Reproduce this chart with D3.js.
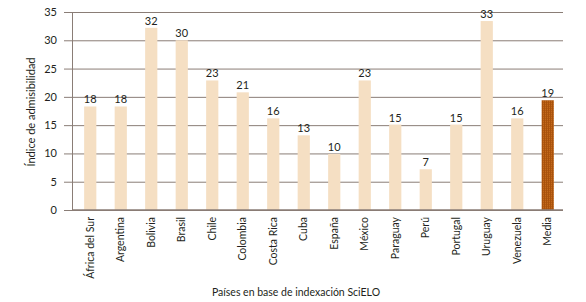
<!DOCTYPE html>
<html>
<head>
<meta charset="utf-8">
<script src="https://cdn.jsdelivr.net/npm/d3@7"></script>
<style>
  body { margin: 0; background: #fff; }
  text { font-family: Lato, "Open Sans", sans-serif; fill: #231f20; }
</style>
</head>
<body>
<div id="chart"></div>
<script>
const paises = ["África del Sur", "Argentina", "Bolivia", "Brasil", "Chile", "Colombia", "Costa Rica",
  "Cuba", "España", "México", "Paraguay", "Perú", "Portugal", "Uruguay", "Venezuela", "Media"];
const indice = [18.3, 18.3, 32.2, 30.0, 22.9, 20.8, 16.2, 13.2, 9.9, 22.9, 15.1, 7.2, 15.1, 33.4, 16.2, 19.4];
const yTicks = [0, 5, 10, 15, 20, 25, 30, 35];

const width = 586, height = 302;
const marginTop = 12, marginRight = 23, marginBottom = 92, marginLeft = 72;

const data = paises.map((p, i) => ({pais: p, value: indice[i]}));

const svg = d3.select("#chart").append("svg")
  .attr("width", width).attr("height", height)
  .attr("viewBox", [0, 0, width, height]);

const defs = svg.append("defs");
const pat = defs.append("pattern")
  .attr("id", "media")
  .attr("width", 2).attr("height", 2)
  .attr("patternUnits", "userSpaceOnUse");
pat.append("rect").attr("width", 2).attr("height", 2).attr("fill", "#c46a1c");
pat.append("rect").attr("width", 1).attr("height", 2).attr("fill", "#a9520c");
pat.append("rect").attr("width", 2).attr("height", 1).attr("fill", "#a9520c").attr("opacity", 0.6);

const x = d3.scaleBand()
  .domain(paises)
  .range([75, width - marginRight])
  .paddingInner(0.6)
  .paddingOuter(0.3);

const y = d3.scaleLinear()
  .domain([0, 35])
  .range([height - marginBottom, marginTop]);

// gridlines + ticks
svg.append("g")
  .attr("transform", `translate(${marginLeft},0)`)
  .call(d3.axisLeft(y).tickValues(yTicks).tickSize(8).tickPadding(7))
  .call(g => g.select(".domain").attr("stroke", "#8a7d76"))
  .call(g => g.selectAll(".tick line").attr("stroke", "#8a7d76"))
  .call(g => g.selectAll(".tick line").clone()
    .attr("x1", 0).attr("x2", width - marginRight - marginLeft)
    .attr("stroke", "#8a7d76"))
  .call(g => g.selectAll(".tick text").attr("font-size", 11).attr("font-family", "Lato, sans-serif"));

svg.append("g")
  .selectAll()
  .data(data)
  .join("rect")
    .attr("x", d => x(d.pais))
    .attr("y", d => y(d.value))
    .attr("width", x.bandwidth())
    .attr("height", d => y(0) - y(d.value))
    .attr("fill", d => d.pais === "Media" ? "url(#media)" : "#f5dfc3");

svg.append("g")
  .attr("font-size", 11)
  .attr("text-anchor", "middle")
  .selectAll()
  .data(data)
  .join("text")
    .attr("x", d => x(d.pais) + x.bandwidth() / 2)
    .attr("y", d => y(d.value) - 3)
    .text(d => Math.round(d.value));

// bottom axis
svg.append("line")
  .attr("x1", marginLeft).attr("x2", width - marginRight)
  .attr("y1", y(0)).attr("y2", y(0))
  .attr("stroke", "#8a7d76").attr("stroke-width", 1.5);

svg.append("g")
  .attr("font-size", 10.5)
  .attr("text-anchor", "end")
  .selectAll()
  .data(paises)
  .join("text")
    .attr("transform", d => `translate(${x(d) + x.bandwidth() / 2},${y(0) + 7}) rotate(-90)`)
    .attr("dy", "0.35em")
    .text(d => d);

svg.append("text")
  .attr("transform", `translate(35,112) rotate(-90)`)
  .attr("text-anchor", "middle")
  .attr("font-size", 11)
  .text("Índice de admisibilidad");

svg.append("text")
  .attr("x", 296).attr("y", 296)
  .attr("text-anchor", "middle")
  .attr("font-size", 10.5)
  .text("Países en base de indexación SciELO");
</script>
</body>
</html>
